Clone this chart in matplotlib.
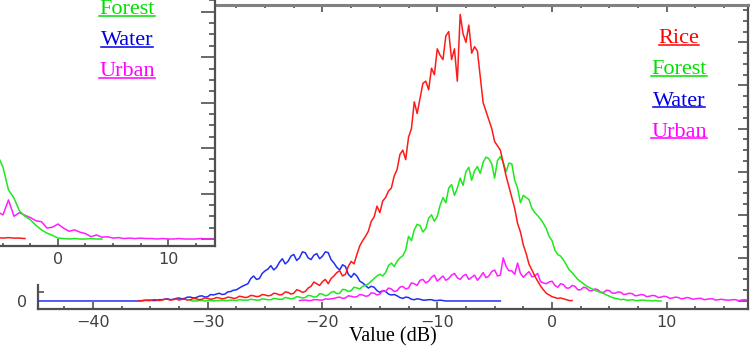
import numpy as np
import matplotlib
matplotlib.use('Agg')
import matplotlib.pyplot as plt
from matplotlib.ticker import MultipleLocator
from matplotlib.lines import Line2D
from matplotlib.transforms import IdentityTransform

# histogram values, 0.25 dB bins
step = 0.25

rice_start = -36.0
rice = [1, 0, 2, 1, 1, 3, 3, 1, 2, 4,
        4, 2, 3, 5, 2, 4, 4, 2, 3, 6,
        5, 3, 4, 7, 6, 4, 5, 8, 7, 5,
        6, 9, 8, 6, 7, 11, 10, 8, 9, 13,
        12, 10, 11, 15, 14, 12, 13, 18, 17, 14,
        15, 21, 20, 16, 18, 26, 24, 20, 22, 30,
        34, 44, 40, 36, 45, 50, 40, 52, 58, 66,
        70, 58, 62, 80, 92, 86, 108, 128, 140, 150,
        162, 185, 195, 220, 205, 232, 240, 255, 262, 290,
        305, 340, 350, 328, 380, 400, 462, 435, 470, 505,
        510, 490, 540, 525, 585, 570, 560, 615, 625, 560,
        585, 510, 665, 620, 600, 640, 575, 590, 580, 520,
        460, 440, 420, 400, 370, 360, 350, 320, 290, 265,
        240, 215, 180, 160, 130, 110, 85, 72, 58, 46,
        35, 26, 18, 14, 10, 8, 6, 7, 5, 3,
        1, 1]

forest_start = -31.5
forest = [1, 0, 0, 1, 1, 0, 1, 1, 0, 1,
          1, 2, 1, 1, 2, 2, 1, 3, 2, 2,
          2, 4, 3, 2, 2, 5, 4, 3, 3, 6,
          5, 4, 4, 8, 7, 5, 6, 10, 9, 7,
          8, 13, 12, 9, 10, 17, 16, 12, 14, 20,
          22, 17, 18, 27, 26, 22, 24, 32, 30, 28,
          34, 36, 40, 46, 52, 58, 62, 58, 66, 82,
          88, 80, 92, 100, 105, 118, 150, 140, 165, 178,
          175, 160, 168, 192, 200, 185, 196, 222, 240, 228,
          262, 270, 245, 262, 285, 268, 300, 310, 280, 302,
          312, 296, 322, 334, 330, 318, 285, 326, 335, 322,
          300, 320, 318, 280, 262, 228, 245, 240, 235, 215,
          205, 198, 190, 180, 168, 150, 140, 118, 108, 104,
          95, 84, 72, 66, 58, 50, 45, 40, 35, 31,
          28, 25, 22, 20, 17, 14, 11, 8, 6, 5,
          3, 4, 2, 2, 3, 1, 1, 2, 2, 1,
          1, 0, 1, 0, 0]

water_start = -45.0
water = [0] * 37 + [
         1, 1, 2, 2, 1, 1, 3, 3, 4, 5,
         3, 4, 6, 7, 5, 6, 9, 9, 7, 8,
         11, 12, 9, 10, 15, 14, 16, 18, 15, 16,
         21, 22, 25, 26, 30, 34, 37, 40, 52, 58,
         50, 52, 64, 70, 74, 82, 72, 78, 90, 98,
         86, 92, 104, 108, 94, 100, 114, 112, 100, 96,
         106, 110, 98, 104, 114, 112, 96, 88, 78, 72,
         84, 80, 62, 55, 64, 58, 46, 42, 36, 30,
         34, 32, 24, 20, 24, 22, 16, 14, 15, 12,
         8, 6, 9, 8, 4, 3, 5, 4, 2, 2,
         3, 3, 1, 1, 2, 1] + [0] * 20

urban_start = -22.0
urban = [1, 2, 2, 1, 1, 3, 3, 2, 2, 5,
         4, 5, 6, 8, 9, 6, 7, 12, 11, 9,
         10, 15, 14, 11, 12, 19, 18, 14, 16, 24,
         22, 30, 28, 22, 24, 32, 34, 28, 30, 42,
         40, 36, 48, 50, 42, 46, 55, 60, 46, 52,
         58, 48, 52, 60, 64, 54, 50, 58, 62, 50,
         55, 60, 48, 56, 66, 54, 58, 68, 72, 58,
         60, 100, 80, 70, 70, 62, 88, 64, 55, 62,
         68, 56, 58, 64, 45, 42, 40, 44, 46, 36,
         32, 40, 38, 30, 30, 36, 34, 26, 26, 32,
         30, 24, 24, 28, 26, 20, 20, 25, 24, 18,
         18, 21, 20, 15, 16, 18, 17, 12, 13, 15,
         14, 10, 11, 13, 12, 8, 9, 11, 10, 6,
         7, 9, 8, 5, 6, 8, 7, 4, 5, 6,
         6, 3, 4, 5, 5, 2, 3, 4, 3, 2,
         2, 3, 3, 1, 2, 3, 2]

# inset panel (tail of a second histogram), 0.5 dB bins
in_step = 0.5
in_start = -5.5
in_rice = [3, 2, 3, 2, 2, 1]
in_forest = [185, 158, 108, 90, 62, 50, 42, 30, 20, 13,
             8, 2, 1, 0, 1, 0, 0, 1, 0, 0]
in_urban = [60, 53, 86, 50, 58, 52, 47, 40, 38, 24,
            26, 33, 24, 17, 20, 15, 12, 5, 9, 4,
            5, 2, 3, 1, 2, 1, 2, 1, 1, 0,
            1, 0, 0, 1, 0, 0, 0, 1, 0, 0, 0]

labels = ['Rice', 'Forest', 'Water', 'Urban']
colors = ['#ff1a1a', '#1ee81e', '#2030f0', '#ff1eff']
text_colors = ['#ff0000', '#00e000', '#0000e0', '#ff00ff']


def bins(start, vals, st):
    return start + st * np.arange(len(vals))


fig = plt.figure(figsize=(7.56, 3.47), dpi=100)
W, H = 756.0, 347.0
spine_c = '#505050'

# ---- main panel
ax = fig.add_axes([38 / W, 1 - 309 / H, 710 / W, 304 / H], zorder=1)
for vals, start, c in [(water, water_start, colors[2]), (urban, urban_start, colors[3]),
                       (forest, forest_start, colors[1]), (rice, rice_start, colors[0])]:
    ax.plot(bins(start, vals, step), vals, color=c, lw=1.1)

ax.set_xlim(-44.79, 17.08)
ax.set_ylim(-18.6, 686.7)
ax.xaxis.set_major_locator(MultipleLocator(10))
ax.xaxis.set_minor_locator(MultipleLocator(2.5))
ax.yaxis.set_major_locator(MultipleLocator(100))
ax.yaxis.set_minor_locator(MultipleLocator(25))
ax.tick_params(axis='x', which='both', direction='in', top=True, bottom=True,
               colors=spine_c, labelcolor='#404040', labelsize=11.5, pad=4)
ax.tick_params(axis='x', which='major', length=5, width=1.2)
ax.tick_params(axis='x', which='minor', length=2.5, width=1.2)
ax.tick_params(axis='y', which='both', direction='in', left=False, right=True,
               labelleft=False, labelright=False, colors=spine_c)
ax.tick_params(axis='y', which='major', length=7, width=1.2)
ax.tick_params(axis='y', which='minor', length=3.5, width=1.2)
ax.spines['left'].set_visible(False)
for s in ['top', 'right', 'bottom']:
    ax.spines[s].set_color(spine_c)
    ax.spines[s].set_linewidth(1.6)
ax.spines['top'].set_color('#808080')
ax.spines['top'].set_linewidth(2.2)
ax.set_xlabel('Value (dB)', family='Liberation Serif', fontsize=14.5, labelpad=-2)

sec = ax.secondary_yaxis('left')
sec.set_yticks([0])
sec.set_yticklabels(['0'])
sec.set_yticks([22], minor=True)
sec.tick_params(which='major', length=0, pad=8, labelsize=11.5, labelcolor='#404040')
sec.tick_params(which='minor', direction='in', length=4, width=1.2, colors=spine_c)
sec.spines['left'].set_bounds(-18.6, 37)
sec.spines['left'].set_color(spine_c)
sec.spines['left'].set_linewidth(1.6)

# ---- inset panel at top left
ins = fig.add_axes([0.0, 1 - 246 / H, 215 / W, 246 / H], zorder=2)
ins.set_facecolor('white')
ins.plot(bins(in_start, in_urban, in_step), in_urban, color=colors[3], lw=1.1)
ins.plot(bins(in_start, in_forest, in_step), in_forest, color=colors[1], lw=1.1)
ins.plot(bins(in_start, in_rice, in_step), in_rice, color=colors[0], lw=1.1)
ins.set_xlim(-5.27, 14.27)
ins.set_ylim(-15.4, 525.8)
ins.xaxis.set_major_locator(MultipleLocator(10))
ins.xaxis.set_minor_locator(MultipleLocator(2.5))
ins.yaxis.set_major_locator(MultipleLocator(100))
ins.yaxis.set_minor_locator(MultipleLocator(25))
ins.tick_params(axis='x', which='both', direction='in', colors=spine_c,
                labelcolor='#404040', labelsize=11.5, pad=4, width=1.2)
ins.tick_params(axis='x', which='major', length=5)
ins.tick_params(axis='x', which='minor', length=2.5)
ins.tick_params(axis='y', which='both', direction='in', left=False, right=True,
                labelleft=False, colors=spine_c, width=1.2)
ins.tick_params(axis='y', which='major', length=10)
ins.tick_params(axis='y', which='minor', length=4)
ins.spines['left'].set_visible(False)
ins.spines['top'].set_visible(False)
for s in ['right', 'bottom']:
    ins.spines[s].set_color(spine_c)
    ins.spines[s].set_linewidth(1.6)

# ---- underlined class labels
legend_texts = []
for i, lab in enumerate(labels):
    legend_texts.append(fig.text(679 / W, 1 - (43 + 31.3 * i) / H, lab, color=text_colors[i],
                                 family='Liberation Serif', fontsize=16,
                                 ha='center', va='baseline', zorder=5))
for i, lab in enumerate(labels[1:]):
    legend_texts.append(fig.text(127 / W, 1 - (14 + 31 * i) / H, lab, color=text_colors[i + 1],
                                 family='Liberation Serif', fontsize=16,
                                 ha='center', va='baseline', zorder=5))

fig.canvas.draw()
rend = fig.canvas.get_renderer()
for t in legend_texts:
    bb = t.get_window_extent(rend)
    yb = t.get_transform().transform(t.get_position())[1] - 1.5
    fig.add_artist(Line2D([bb.x0, bb.x1], [yb, yb], color=t.get_color(), lw=1.1,
                          transform=IdentityTransform(), zorder=5))

fig.savefig('out.png', dpi=100)
